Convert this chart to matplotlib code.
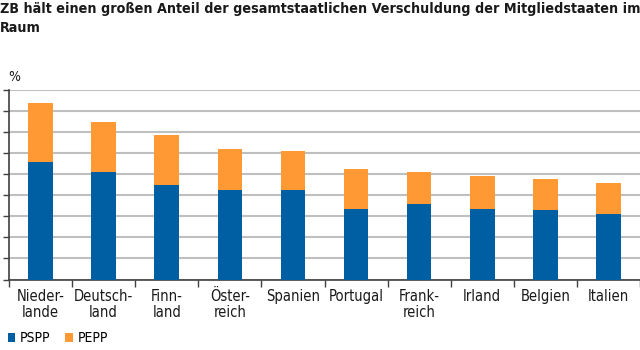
import numpy as np
import matplotlib.pyplot as plt
from matplotlib import font_manager

# Daten (in % der gesamtstaatlichen Verschuldung)
laender = ['Nieder-\nlande', 'Deutsch-\nland', 'Finn-\nland', 'Öster-\nreich', 'Spanien',
           'Portugal', 'Frank-\nreich', 'Irland', 'Belgien', 'Italien']
pspp = [27.9, 25.4, 22.5, 21.3, 21.1, 16.8, 18.0, 16.7, 16.4, 15.6]
pepp = [14.0, 11.8, 11.8, 9.5, 9.3, 9.3, 7.4, 7.8, 7.3, 7.3]
titel = ['ZB hält einen großen Anteil der gesamtstaatlichen Verschuldung der Mitgliedstaaten im',
         'Raum']

blau = '#005FA3'
orange = '#FF9933'
text_farbe = '#1a1a1a'

# schmale Schrift, falls vorhanden
fonts = font_manager.fontManager.ttflist
schmal = any(f.name == 'DejaVu Sans' and f.stretch in ('condensed', 'semi-condensed') for f in fonts)
stretch = 'condensed' if schmal else 'normal'
plt.rcParams['font.family'] = ['DejaVu Sans'] if schmal else ['Liberation Sans', 'DejaVu Sans']
plt.rcParams['font.stretch'] = stretch

fig = plt.figure(figsize=(6.4, 3.5), dpi=100)
ax = fig.add_axes([9 / 640, 70.5 / 350, 631 / 640, 190 / 350])

x = np.arange(len(laender))
ax.bar(x, pspp, width=0.39, color=blau, label='PSPP', zorder=3)
ax.bar(x, pepp, width=0.39, bottom=pspp, color=orange, label='PEPP', zorder=3)

ax.set_xlim(-0.5, 9.06)
ax.set_ylim(0, 45)
ax.set_yticks(np.arange(0, 46, 5))
ax.set_yticklabels([])
ax.yaxis.grid(True, color='#BFBFBF', linewidth=1.5, zorder=0)
ax.tick_params(axis='y', length=4, width=1, color='#404040')

ax.set_xticks(x)
ax.set_xticklabels(laender, fontsize=10.5, linespacing=1.15, color=text_farbe)
ax.set_xticks(np.arange(-0.5, 9.6, 1), minor=True)
ax.tick_params(axis='x', which='major', length=0, pad=6.5)
ax.tick_params(axis='x', which='minor', length=5, width=1, color='#404040')

for s in ['top', 'right']:
    ax.spines[s].set_visible(False)
for s in ['left', 'bottom']:
    ax.spines[s].set_color('#404040')
    ax.spines[s].set_linewidth(1.2)

t1 = fig.text(0.0, 1 - 8.5 / 350, titel[0], fontsize=13, fontweight='bold',
              va='center', ha='left', color=text_farbe)
# Titelzeile auf Bildbreite einpassen
r = fig.canvas.get_renderer()
w = t1.get_window_extent(r).width
if w > 637:
    t1.set_fontsize(13 * 637 / w)
fs = t1.get_fontsize()
fig.text(0.0, 1 - 28 / 350, titel[1], fontsize=fs, fontweight='bold',
         va='center', ha='left', color=text_farbe)
fig.text(8 / 640, 1 - 77 / 350, '%', fontsize=10, va='center', ha='left', color=text_farbe)

fig.legend(loc='center left', bbox_to_anchor=(2 / 640, 1 - 338.5 / 350), ncol=2, frameon=False,
           handlelength=0.55, handleheight=0.55, handletextpad=0.35, columnspacing=1.05,
           borderaxespad=0, fontsize=10)

fig.savefig('out.png', dpi=100)
